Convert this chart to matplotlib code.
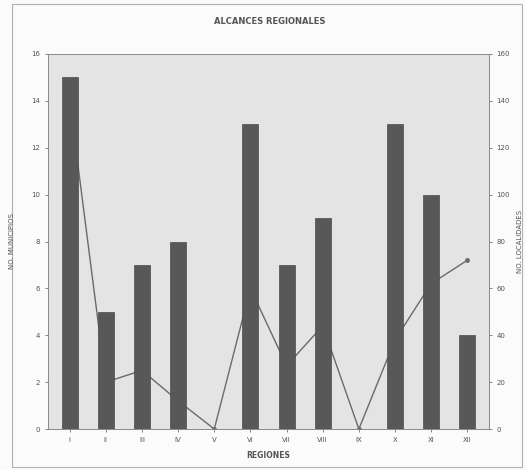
import numpy as np
import matplotlib.pyplot as plt
from matplotlib.patches import Rectangle

# Data
regiones = ["I", "II", "III", "IV", "V", "VI", "VII", "VIII", "IX", "X", "XI", "XII"]
municipios = [15, 5, 7, 8, 0, 13, 7, 9, 0, 13, 10, 4]
localidades = [140, 20, 25, 12, 0, 60, 27, 44, 0, 38, 62, 72]

fig = plt.figure(figsize=(5.26, 4.70), dpi=100)
fig.patch.set_facecolor("#fbfbfb")

# outer frame around the whole chart
fig.patches.append(Rectangle((12 / 526, 1 - 467 / 470), 510 / 526, 463 / 470,
                             transform=fig.transFigure, fill=False,
                             edgecolor="#b0b0b0", linewidth=0.8))

ax = fig.add_axes([48 / 526, 1 - 429 / 470, 441 / 526, 375 / 470])
ax2 = ax.twinx()

x = np.arange(len(regiones))

# line sits behind the bars
ax.set_zorder(2)
ax2.set_zorder(1)
ax.patch.set_visible(False)
ax2.patch.set_facecolor("#e4e4e4")
ax2.patch.set_visible(True)

ax.bar(x, municipios, width=0.44, color="#585858", edgecolor="#4a4a4a", linewidth=0.5)
ax2.plot(x, localidades, "-o", color="#6a6a6a", linewidth=1.0, markersize=2.5)

ax.set_xlim(-0.6, len(regiones) - 0.4)
ax.set_ylim(0, 16)
ax2.set_ylim(0, 160)
ax.set_yticks(np.arange(0, 17, 2))
ax2.set_yticks(np.arange(0, 161, 20))
ax.set_xticks(x)
ax.set_xticklabels(regiones)

for a in (ax, ax2):
    a.tick_params(labelsize=5, colors="#555555", length=2, width=0.5)
    for s in a.spines.values():
        s.set_color("#8a8a8a")
        s.set_linewidth(0.6)

ax.set_ylabel("NO. MUNICIPIOS", fontsize=5, color="#555555", labelpad=12)
ax2.set_ylabel("NO. LOCALIDADES", fontsize=5, color="#555555", labelpad=5, rotation=90)
ax.set_xlabel("REGIONES", fontsize=5.5, color="#555555", fontweight="bold", labelpad=6)

fig.text(270 / 526, 1 - 22 / 470, "ALCANCES REGIONALES", ha="center", va="center",
         fontsize=6, fontweight="bold", color="#555555")

fig.savefig("out.png", dpi=100, facecolor=fig.get_facecolor())
